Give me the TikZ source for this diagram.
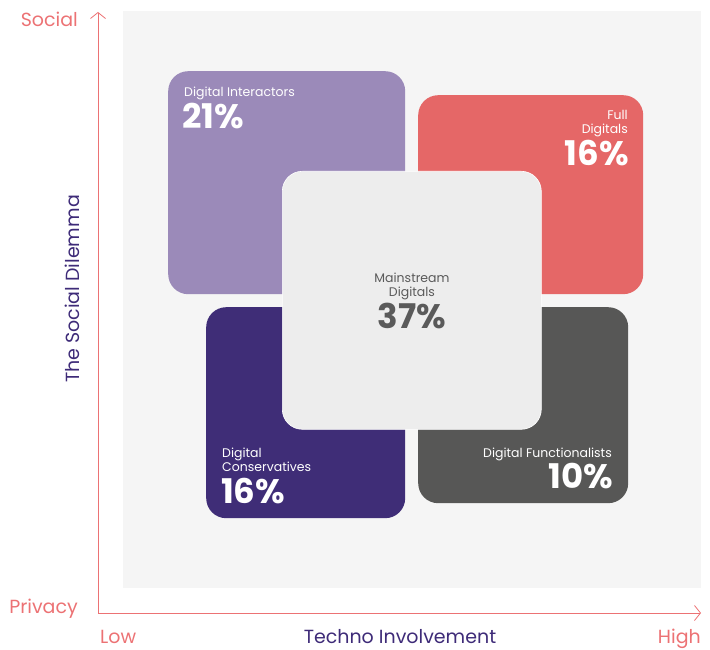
\documentclass[tikz,border=0pt]{standalone}
\usepackage{fontspec}
\setmainfont{Poppins}
\usetikzlibrary{positioning}
\usetikzlibrary{arrows.meta}
\definecolor{bgcol}{HTML}{F5F5F5}
\definecolor{axisred}{HTML}{EC7274}
\definecolor{titlecol}{HTML}{3E2B78}
\definecolor{interactcol}{HTML}{9B8AB9}
\definecolor{fullcol}{HTML}{E56767}
\definecolor{conservcol}{HTML}{3F2D77}
\definecolor{functcol}{HTML}{575756}
\definecolor{mainscol}{HTML}{EDEDED}
\definecolor{maintext}{HTML}{5A5A5A}
\tikzset{
  segment/.style={rounded corners=20pt, inner sep=0pt, anchor=north west},
  segname/.style={font=\fontsize{12.5}{14}\selectfont, text=white, inner sep=0pt},
  segshare/.style={font=\fontsize{34}{34}\selectfont\bfseries, text=white, inner sep=0pt},
  axisline/.style={draw=axisred, line width=0.8pt, -{Straight Barb[length=6pt,width=15pt]}},
  axislabel/.style={font=\fontsize{19}{19}\selectfont, text=axisred, inner sep=0pt},
}

\begin{document}
\begin{tikzpicture}[x=1pt, y=-1pt]

  \useasboundingbox (0,0) rectangle (710,650);
  \fill[bgcol] (123,11) rectangle (701,588);

  % Define segments
  \node[segment, fill=interactcol, minimum width=237pt, minimum height=223pt] (interactors) at (168,71) {};
  \node[segment, fill=fullcol, minimum width=225pt, minimum height=199pt] (full) at (418,95) {};
  \node[segment, fill=conservcol, minimum width=199pt, minimum height=211pt] (conserv) at (206,307) {};
  \node[segment, fill=functcol, minimum width=210pt, minimum height=196pt] (funct) at (418,307) {};
  \node[segment, fill=mainscol, draw=white, line width=0.6pt, minimum width=259pt, minimum height=258pt] (mains) at (282,171) {};

  % Segment labels
  \node[segname, anchor=base west] (interactors_n) at (184,97) {Digital Interactors};
  \node[segshare, anchor=base west] (interactors_p) at (182,129) {21\%};

  \node[segname, anchor=base east, align=right] (full_n) at (628,134) {Full\\Digitals};
  \node[segshare, anchor=base east] (full_p) at (629,166) {16\%};

  \node[segname, text=maintext, anchor=base, align=center] (mains_n) at (412,296) {Mainstream\\Digitals};
  \node[segshare, text=maintext, anchor=base] (mains_p) at (412,328) {37\%};

  \node[segname, anchor=base west, align=left] (conserv_n) at (222,471) {Digital\\Conservatives};
  \node[segshare, anchor=base west] (conserv_p) at (221,503) {16\%};

  \node[segname, anchor=base east] (funct_n) at (612,457) {Digital Functionalists};
  \node[segshare, anchor=base east] (funct_p) at (613,488) {10\%};

  % Axes
  \coordinate (origin) at (98,613);
  \coordinate (ytop) at (98,12);
  \coordinate (xend) at (701,613);
  \draw[axisline] (origin) -- (ytop);
  \draw[axisline] (origin) -- (xend);

  \node[axislabel, anchor=base east] (social) at (78,27) {Social};
  \node[axislabel, anchor=base east] (privacy) at (78,613) {Privacy};
  \node[axislabel, anchor=base west] (low) at (100,643) {Low};
  \node[axislabel, anchor=base east] (high) at (701,643) {High};
  \node[axislabel, text=titlecol, anchor=base] (xtitle) at (400,643) {Techno Involvement};
  \node[axislabel, text=titlecol, rotate=90, anchor=base] (ytitle) at (79,289) {The Social Dilemma};

\end{tikzpicture}
\end{document}
